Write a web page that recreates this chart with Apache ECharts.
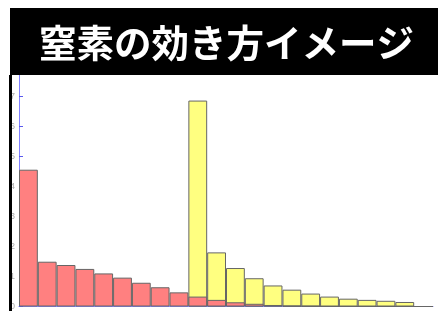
<!DOCTYPE html>
<html>
<head>
<meta charset="utf-8">
<script src="https://cdn.jsdelivr.net/npm/echarts@6/dist/echarts.min.js"></script>
<style>
    html, body { margin: 0; padding: 0; background: #fff; }
    #chart { width: 438px; height: 311px; }
</style>
</head>
<body>
<div id="chart"></div>
<script>
// 区間 (22本、最後は空)
var categories = ['1','2','3','4','5','6','7','8','9','10','11','12','13','14','15','16','17','18','19','20','21','22'];
// 赤: 速効性
var redValues = [4.55, 1.49, 1.38, 1.25, 1.10, 0.96, 0.79, 0.64, 0.47, 0.33, 0.22, 0.14, 0.09, 0.05, 0.02, 0.01, 0, 0, 0, 0, 0, null];
// 黄: 緩効性
var yellowValues = [null, null, null, null, null, null, null, null, null, 6.85, 1.80, 1.28, 0.94, 0.70, 0.56, 0.43, 0.33, 0.26, 0.22, 0.19, 0.15, 0];
var yTicks = ['0','1','2','3','4','5','6','7','8'];

var chart = echarts.init(document.getElementById('chart'));
var option = {
    animation: false,
    grid: { left: 19, right: 5, top: 66, bottom: 2 },
    xAxis: {
        type: 'category',
        data: categories,
        axisLine: { lineStyle: { color: '#8080ff', width: 1 } },
        axisTick: { show: false },
        axisLabel: { show: false }
    },
    yAxis: {
        type: 'value',
        min: 0,
        max: 8,
        interval: 1,
        axisLine: { show: true, lineStyle: { color: '#8080ff', width: 1 } },
        axisTick: { show: true, inside: true, length: 4, lineStyle: { color: '#5a5aee', width: 1 } },
        axisLabel: {
            margin: 4,
            fontSize: 9,
            color: '#aaa',
            formatter: function (v) { return yTicks[v]; }
        },
        splitLine: { show: false }
    },
    series: [
        {
            name: 'yellow',
            type: 'bar',
            data: yellowValues,
            barCategoryGap: 0,
            itemStyle: { color: '#ffff80', borderColor: '#666', borderWidth: 1 }
        },
        {
            name: 'red',
            type: 'bar',
            data: redValues,
            barGap: '-100%',
            barCategoryGap: 0,
            itemStyle: { color: '#ff8080', borderColor: '#666', borderWidth: 1 }
        }
    ],
    graphic: [
        {
            type: 'rect',
            z: 100,
            shape: { x: 10, y: 8, width: 428, height: 67 },
            style: { fill: '#000' }
        },
        {
            type: 'rect',
            z: 100,
            shape: { x: 9, y: 75, width: 3, height: 236 },
            style: { fill: '#000' }
        },
        {
            type: 'text',
            z: 101,
            x: 39,
            y: 43,
            style: {
                text: '窒素の効き方イメージ',
                fill: '#fff',
                font: 'bold 37.5px "Noto Sans CJK JP"',
                textAlign: 'left',
                textVerticalAlign: 'middle'
            }
        }
    ]
};
chart.setOption(option);
</script>
</body>
</html>
